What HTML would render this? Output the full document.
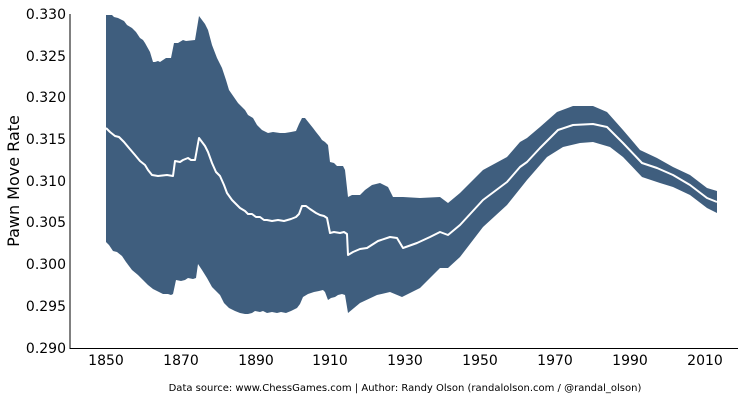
<!DOCTYPE html>
<html><head><meta charset="utf-8"><style>
body{margin:0;background:#fff;}
svg{display:block;font-family:"DejaVu Sans","Liberation Sans",sans-serif;}
</style></head><body>
<svg width="746" height="400" viewBox="0 0 746 400">
<polygon fill="#3f5e7e" points="
106,15 112,15 114,17 118,18 124,21 127,25 132,28 136,32 140,38 143,40 145,43 150,52 153,62 155,62 158,61 160,62 166,58 171,58 174,43 178,43 183,40 186,41 195,40 199,16 205,24 208,30 212,45 217,58 222,68 226,80 229,90 238,103 245,110 248,115 253,118 257,125 262,130 268,133 273,132 280,133 285,133 291,132 296,131 299,124 302,118 305,118 309,123 313,128 316,132 320,137 322,140 325,142 328,145 330,162 334,163 337,166 343,166 345,170 348,197 352,195 360,195 365,190 372,185 380,183 388,187 393,197 403,197 420,198 440,197 448,203 460,193 483,170 507,157 520,142 527,138 540,127 557,112 573,106 593,106 607,112 623,130 640,150 657,158 673,167 690,175 707,188 717,191
717,213 707,208 690,195 673,187 660,183 642,177 623,157 610,147 593,142 580,143 563,147 547,157 527,180 507,205 483,227 460,257 448,268 440,268 420,288 402,297 390,292 377,295 360,303 348,313 345,295 342,294 338,295 335,297 331,298 328,300 325,292 323,290 319,291 314,292 308,294 303,297 300,304 297,308 291,311 286,313 281,312 277,313 272,312 267,313 263,311 260,312 255,311 252,313 248,314 245,314 240,313 235,311 229,308 224,303 220,295 215,290 212,287 207,278 202,270 198,264 196,278 193,279 188,278 185,280 181,281 176,280 173,294 171,295 168,294 163,294 159,292 153,289 148,285 143,280 138,275 132,270 126,262 122,256 117,252 113,251 109,245 106,242"/>
<polyline fill="none" stroke="#fff" stroke-width="2" stroke-linejoin="round" points="
106,128 110,132 115,136 119,137 124,142 129,148 135,155 140,161 145,165 148,170 152,175 158,176 167,175 173,176 175,161 180,162 183,160 188,158 191,160 195,160 199,138 205,146 208,152 212,163 216,172 220,176 224,185 227,193 232,200 237,205 240,208 245,211 248,214 252,214 256,217 260,217 264,220 267,220 272,221 278,220 284,221 291,219 296,217 299,214 302,206 306,206 310,209 316,213 320,215 324,216 327,218 330,233 334,232 340,233 344,232 347,234 348,255 353,252 360,249 367,248 378,241 390,237 397,238 403,248 417,243 430,237 440,232 448,235 460,225 483,200 507,182 520,167 527,162 540,148 558,130 573,125 593,124 607,127 623,143 642,163 657,168 673,175 690,185 707,198 717,202"/>
<g stroke="#000" stroke-width="1">
<line x1="70" y1="14" x2="70" y2="348.5"/>
<line x1="69.5" y1="348.5" x2="738" y2="348.5"/>
</g>
<g font-size="14" fill="#000" text-anchor="end">
<text x="66" y="19">0.330</text>
<text x="66" y="61">0.325</text>
<text x="66" y="102">0.320</text>
<text x="66" y="144">0.315</text>
<text x="66" y="186">0.310</text>
<text x="66" y="227">0.305</text>
<text x="66" y="269">0.300</text>
<text x="66" y="311">0.295</text>
<text x="66" y="353">0.290</text>
</g>
<g font-size="14" fill="#000" text-anchor="middle">
<text x="106" y="365">1850</text>
<text x="181" y="365">1870</text>
<text x="256" y="365">1890</text>
<text x="330" y="365">1910</text>
<text x="405" y="365">1930</text>
<text x="480" y="365">1950</text>
<text x="555" y="365">1970</text>
<text x="630" y="365">1990</text>
<text x="705" y="365">2010</text>
</g>
<text transform="translate(19,181) rotate(-90)" font-size="16" text-anchor="middle">Pawn Move Rate</text>
<text x="405" y="391" font-size="10" text-anchor="middle">Data source: www.ChessGames.com | Author: Randy Olson (randalolson.com / @randal_olson)</text>
</svg>
</body></html>
